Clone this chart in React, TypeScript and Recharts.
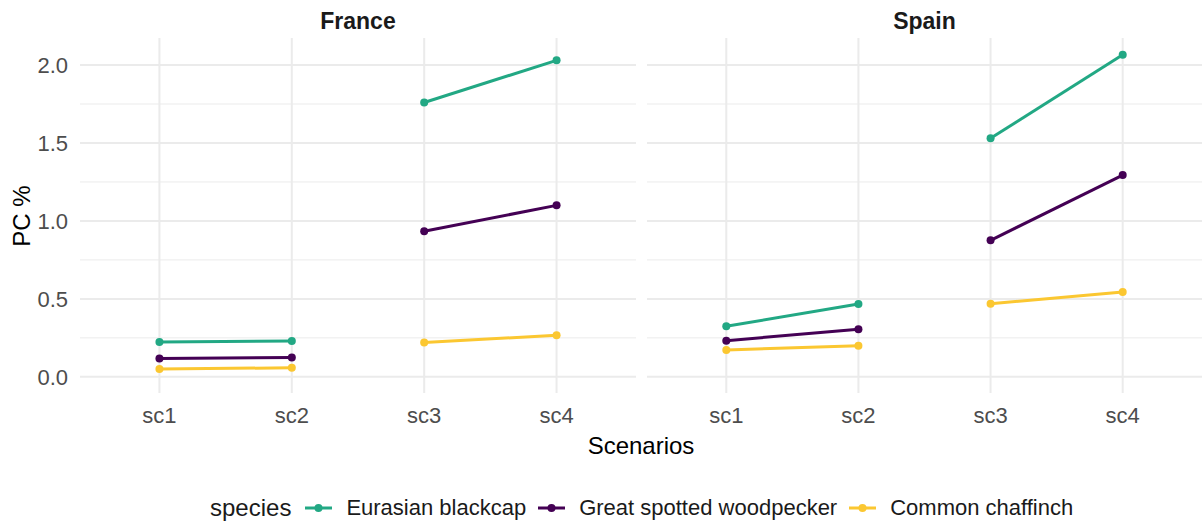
import { LineChart, Line, XAxis, YAxis, CartesianGrid } from 'recharts'

const scenarios = ['sc1', 'sc2', 'sc3', 'sc4']
const species = ['Eurasian blackcap', 'Great spotted woodpecker', 'Common chaffinch']
const speciesColors = ['#22A884', '#440154', '#FBC731']

// PC % per scenario, one array per species and country
const franceBlackcap = [0.224, 0.23, 1.76, 2.03]
const franceWoodpecker = [0.117, 0.124, 0.934, 1.1]
const franceChaffinch = [0.051, 0.058, 0.22, 0.267]
const spainBlackcap = [0.324, 0.467, 1.53, 2.066]
const spainWoodpecker = [0.232, 0.305, 0.876, 1.294]
const spainChaffinch = [0.173, 0.2, 0.469, 0.544]

// sc1-sc2 and sc3-sc4 are drawn as separate groups
const segments = [
  [0, 1],
  [2, 3],
]

const majorTicks = [0, 0.5, 1, 1.5, 2]
const minorTicks = [0.25, 0.75, 1.25, 1.75]
const xTicks = [1, 2, 3, 4]

const FONT = "'Liberation Sans', Arial, sans-serif"
const Y_DOMAIN: [number, number] = [-0.1035, 2.1735]
const X_DOMAIN: [number, number] = [0.4, 4.6]

function Panel({
  title,
  series,
  showY,
  width,
}: {
  title: string
  series: number[][]
  showY: boolean
  width: number
}) {
  const yWidth = showY ? 80 : 0
  return (
    <div style={{ position: 'relative', width, height: 440 }}>
      <div
        style={{
          position: 'absolute',
          left: yWidth,
          right: showY ? 4 : 2,
          top: 8,
          textAlign: 'center',
          fontFamily: FONT,
          fontWeight: 'bold',
          fontSize: 23,
          color: '#1A1A1A',
        }}
      >
        {title}
      </div>
      <LineChart
        width={width}
        height={440}
        margin={{ top: 38, right: showY ? 4 : 2, bottom: 0, left: 0 }}
      >
        <CartesianGrid
          horizontalValues={minorTicks}
          verticalValues={[]}
          vertical={false}
          stroke="#EBEBEB"
          strokeWidth={1}
        />
        <CartesianGrid
          horizontalValues={majorTicks}
          verticalValues={xTicks}
          stroke="#EBEBEB"
          strokeWidth={2}
        />
        <XAxis
          type="number"
          dataKey="x"
          domain={X_DOMAIN}
          ticks={xTicks}
          tickFormatter={(v: number) => scenarios[v - 1]}
          axisLine={false}
          tickLine={false}
          tickSize={0}
          tickMargin={14}
          height={47}
          tick={{ fontSize: 22, fill: '#4D4D4D', fontFamily: FONT }}
          allowDataOverflow
        />
        <YAxis
          type="number"
          domain={Y_DOMAIN}
          ticks={majorTicks}
          tickFormatter={(v: number) => v.toFixed(1)}
          axisLine={false}
          tickLine={false}
          tickSize={0}
          tickMargin={12}
          width={yWidth}
          hide={!showY}
          tick={{ fontSize: 22, fill: '#4D4D4D', fontFamily: FONT }}
          allowDataOverflow
        />
        {series.map((vals, si) =>
          segments.map((seg, gi) => (
            <Line
              key={`${si}-${gi}`}
              data={seg.map((i) => ({ x: i + 1, v: vals[i] }))}
              dataKey="v"
              stroke={speciesColors[si]}
              strokeWidth={3}
              dot={{ r: 4, fill: speciesColors[si], stroke: speciesColors[si], strokeWidth: 0 }}
              isAnimationActive={false}
            />
          ))
        )}
      </LineChart>
    </div>
  )
}

export default function App() {
  return (
    <div
      style={{
        position: 'relative',
        width: 1204,
        height: 523,
        background: '#fff',
        fontFamily: FONT,
        overflow: 'hidden',
      }}
    >
      <style>{'body { margin: 0; }'}</style>
      <div style={{ position: 'absolute', left: 0, top: 0 }}>
        <Panel
          title="France"
          series={[franceBlackcap, franceWoodpecker, franceChaffinch]}
          showY
          width={640}
        />
      </div>
      <div style={{ position: 'absolute', left: 647, top: 0 }}>
        <Panel
          title="Spain"
          series={[spainBlackcap, spainWoodpecker, spainChaffinch]}
          showY={false}
          width={557}
        />
      </div>

      {/* axis titles */}
      <div
        style={{
          position: 'absolute',
          left: 80,
          width: 1122,
          top: 432,
          textAlign: 'center',
          fontSize: 24,
          color: '#000',
        }}
      >
        Scenarios
      </div>
      <div
        style={{
          position: 'absolute',
          left: 22,
          top: 216,
          transform: 'translate(-50%, -50%) rotate(-90deg)',
          fontSize: 24,
          color: '#000',
          whiteSpace: 'nowrap',
        }}
      >
        PC %
      </div>

      {/* legend */}
      <div
        style={{
          position: 'absolute',
          left: 210,
          top: 494,
          display: 'flex',
          alignItems: 'center',
          height: 28,
          color: '#1A1A1A',
          whiteSpace: 'nowrap',
        }}
      >
        <span style={{ fontSize: 24, marginRight: 14 }}>species</span>
        {species.map((name, i) => (
          <span key={name} style={{ display: 'flex', alignItems: 'center', marginRight: 12 }}>
            <svg width={27} height={14} style={{ marginRight: 14 }}>
              <line x1={0} y1={7} x2={27} y2={7} stroke={speciesColors[i]} strokeWidth={3} />
              <circle cx={13.5} cy={7} r={4} fill={speciesColors[i]} />
            </svg>
            <span style={{ fontSize: 22 }}>{name}</span>
          </span>
        ))}
      </div>
    </div>
  )
}
